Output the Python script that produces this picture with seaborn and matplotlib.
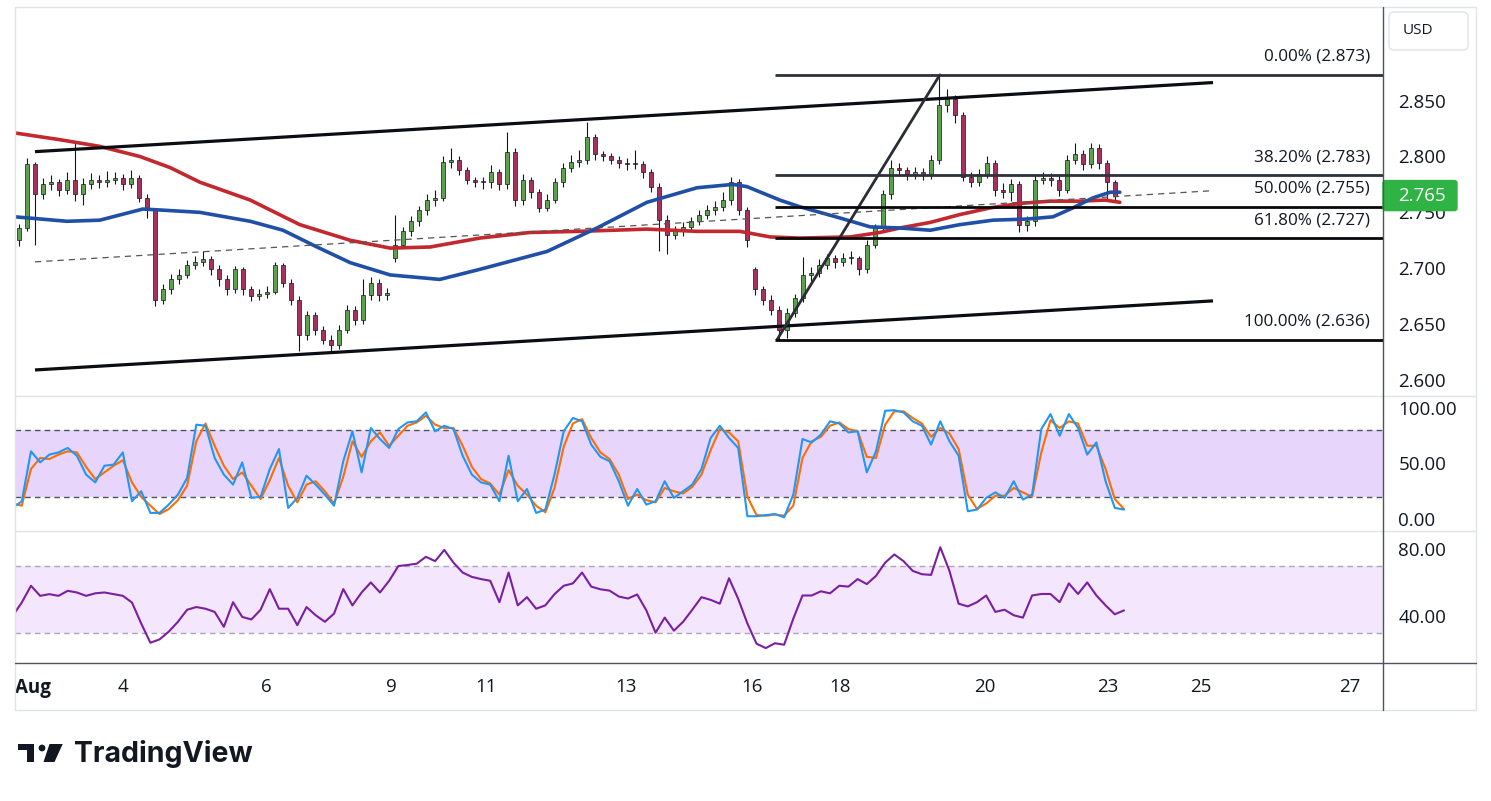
import numpy as np
import pandas as pd
import matplotlib
matplotlib.use('Agg')
import matplotlib.pyplot as plt
import matplotlib.transforms as mtransforms
from matplotlib.patches import FancyBboxPatch, Polygon, Circle
from matplotlib.lines import Line2D
import seaborn as sns

# ---- candles (one per bar) ----
opens = [2.725, 2.736, 2.793, 2.766, 2.775, 2.777, 2.770, 2.779, 2.766, 2.775,
         2.779, 2.777, 2.779, 2.781, 2.775, 2.781, 2.763, 2.752, 2.672, 2.681,
         2.690, 2.694, 2.703, 2.706, 2.708, 2.699, 2.690, 2.681, 2.699, 2.681,
         2.675, 2.677, 2.679, 2.703, 2.687, 2.672, 2.640, 2.658, 2.645, 2.636,
         2.631, 2.645, 2.663, 2.654, 2.676, 2.687, 2.676, 2.709, 2.721, 2.733,
         2.742, 2.752, 2.761, 2.763, 2.795, 2.797, 2.788, 2.779, 2.777, 2.777,
         2.786, 2.775, 2.804, 2.761, 2.779, 2.768, 2.754, 2.761, 2.777, 2.790,
         2.795, 2.797, 2.817, 2.802, 2.800, 2.797, 2.794, 2.793, 2.793, 2.786,
         2.773, 2.743, 2.730, 2.733, 2.737, 2.742, 2.748, 2.752, 2.755, 2.761,
         2.777, 2.752, 2.699, 2.681, 2.672, 2.663, 2.645, 2.660, 2.673, 2.694,
         2.696, 2.703, 2.709, 2.706, 2.709, 2.709, 2.699, 2.721, 2.736, 2.766,
         2.790, 2.788, 2.784, 2.786, 2.784, 2.797, 2.846, 2.851, 2.837, 2.782,
         2.777, 2.784, 2.794, 2.770, 2.768, 2.775, 2.739, 2.742, 2.779, 2.781,
         2.779, 2.770, 2.797, 2.802, 2.793, 2.808, 2.794, 2.777]
highs = [2.740, 2.799, 2.795, 2.781, 2.783, 2.780, 2.786, 2.813, 2.781, 2.785,
         2.783, 2.787, 2.786, 2.784, 2.788, 2.783, 2.766, 2.754, 2.686, 2.695,
         2.699, 2.707, 2.711, 2.715, 2.711, 2.703, 2.694, 2.702, 2.701, 2.684,
         2.681, 2.684, 2.706, 2.705, 2.690, 2.675, 2.662, 2.661, 2.648, 2.640,
         2.649, 2.667, 2.666, 2.690, 2.692, 2.690, 2.682, 2.748, 2.737, 2.747,
         2.756, 2.766, 2.770, 2.800, 2.808, 2.800, 2.791, 2.782, 2.782, 2.792,
         2.789, 2.822, 2.808, 2.784, 2.782, 2.771, 2.766, 2.781, 2.794, 2.801,
         2.806, 2.831, 2.820, 2.805, 2.803, 2.800, 2.799, 2.806, 2.796, 2.789,
         2.776, 2.748, 2.738, 2.741, 2.746, 2.752, 2.757, 2.760, 2.768, 2.782,
         2.780, 2.755, 2.701, 2.684, 2.676, 2.666, 2.664, 2.677, 2.710, 2.701,
         2.708, 2.713, 2.712, 2.714, 2.715, 2.711, 2.725, 2.740, 2.770, 2.797,
         2.794, 2.791, 2.791, 2.790, 2.801, 2.873, 2.860, 2.855, 2.840, 2.786,
         2.789, 2.800, 2.797, 2.776, 2.780, 2.778, 2.747, 2.783, 2.786, 2.785,
         2.783, 2.801, 2.812, 2.806, 2.812, 2.811, 2.797, 2.779]
lows = [2.720, 2.733, 2.721, 2.762, 2.770, 2.765, 2.766, 2.760, 2.757, 2.771,
        2.772, 2.773, 2.775, 2.770, 2.772, 2.759, 2.745, 2.666, 2.668, 2.677,
        2.686, 2.691, 2.699, 2.702, 2.694, 2.684, 2.676, 2.678, 2.676, 2.671,
        2.672, 2.673, 2.677, 2.683, 2.667, 2.626, 2.636, 2.640, 2.632, 2.624,
        2.628, 2.642, 2.649, 2.650, 2.672, 2.671, 2.672, 2.706, 2.718, 2.729,
        2.738, 2.748, 2.756, 2.760, 2.790, 2.783, 2.775, 2.773, 2.771, 2.772,
        2.770, 2.771, 2.756, 2.757, 2.763, 2.750, 2.751, 2.758, 2.773, 2.786,
        2.791, 2.793, 2.797, 2.796, 2.793, 2.790, 2.788, 2.789, 2.781, 2.768,
        2.715, 2.713, 2.726, 2.729, 2.733, 2.739, 2.744, 2.748, 2.751, 2.757,
        2.748, 2.719, 2.676, 2.667, 2.658, 2.636, 2.638, 2.656, 2.670, 2.689,
        2.692, 2.699, 2.700, 2.702, 2.704, 2.694, 2.696, 2.718, 2.733, 2.762,
        2.783, 2.779, 2.780, 2.779, 2.780, 2.793, 2.840, 2.830, 2.778, 2.773,
        2.774, 2.781, 2.765, 2.763, 2.760, 2.732, 2.733, 2.738, 2.775, 2.774,
        2.765, 2.767, 2.793, 2.788, 2.790, 2.789, 2.760, 2.759]
closes = [2.736, 2.793, 2.766, 2.775, 2.777, 2.770, 2.779, 2.766, 2.775, 2.779,
          2.777, 2.779, 2.781, 2.775, 2.781, 2.763, 2.752, 2.672, 2.681, 2.690,
          2.694, 2.703, 2.706, 2.708, 2.699, 2.690, 2.681, 2.699, 2.681, 2.675,
          2.677, 2.679, 2.703, 2.687, 2.672, 2.640, 2.658, 2.645, 2.636, 2.631,
          2.645, 2.663, 2.654, 2.676, 2.687, 2.676, 2.678, 2.721, 2.733, 2.742,
          2.752, 2.761, 2.763, 2.795, 2.797, 2.788, 2.779, 2.777, 2.777, 2.786,
          2.775, 2.804, 2.761, 2.779, 2.768, 2.754, 2.761, 2.777, 2.790, 2.795,
          2.797, 2.817, 2.802, 2.800, 2.797, 2.794, 2.793, 2.793, 2.786, 2.773,
          2.743, 2.730, 2.733, 2.737, 2.742, 2.748, 2.752, 2.755, 2.761, 2.777,
          2.752, 2.725, 2.681, 2.672, 2.663, 2.645, 2.660, 2.673, 2.694, 2.696,
          2.703, 2.709, 2.706, 2.709, 2.709, 2.699, 2.721, 2.736, 2.766, 2.790,
          2.788, 2.784, 2.786, 2.784, 2.797, 2.846, 2.851, 2.837, 2.782, 2.777,
          2.784, 2.794, 2.770, 2.768, 2.775, 2.739, 2.742, 2.779, 2.781, 2.779,
          2.770, 2.797, 2.802, 2.793, 2.808, 2.794, 2.777, 2.765]
last_price = 2.765

# ---- moving averages (bar position, price) ----
ma_red_bar = [-0.5, 5.1, 10.1, 15.1, 18.9, 22.6, 28.9, 35.1, 41.4, 46.4, 51.4, 57.6, 63.9, 70.1, 78.5,
              84.75, 90.1, 93.9, 97.6, 103.9, 107.6, 110.1, 113.9, 117.6, 121.4, 125.1, 128.9, 132.6,
              135.75, 137.6]
ma_red = [2.821, 2.815, 2.809, 2.800, 2.790, 2.777, 2.761, 2.739, 2.725, 2.718, 2.719, 2.727, 2.732,
          2.733, 2.735, 2.733, 2.733, 2.728, 2.727, 2.728, 2.732, 2.736, 2.741, 2.748, 2.754, 2.758,
          2.760, 2.760, 2.761, 2.759]
ma_blue_bar = [-0.5, 6, 10.1, 15.5, 22.6, 28.9, 33, 37.25, 41.4, 46.4, 52.6, 57.6, 66, 72.25, 78.5,
               84.75, 89.25, 91, 95.1, 97.6, 102.6, 106.4, 110.1, 113.9, 117.6, 121.75, 126, 129.25,
               131.75, 134.25, 136.4, 137.6]
ma_blue = [2.746, 2.742, 2.743, 2.753, 2.750, 2.742, 2.734, 2.719, 2.705, 2.694, 2.690, 2.699, 2.715,
           2.736, 2.759, 2.772, 2.775, 2.773, 2.761, 2.755, 2.745, 2.737, 2.736, 2.734, 2.739, 2.743,
           2.744, 2.746, 2.754, 2.763, 2.768, 2.768]

# ---- drawings (bar, price) ----
channel_upper = [(2, 2.8043), (149.25, 2.8661)]
channel_lower = [(2, 2.6090), (149.25, 2.6708)]
channel_mid = [(2, 2.7057), (149.25, 2.7694)]
fib_swing = [(94.75, 2.636), (115.1, 2.873)]
fib_start = 94.5
fib_ratios = ['0.00%', '38.20%', '50.00%', '61.80%', '100.00%']
fib_prices = [2.873, 2.783, 2.755, 2.727, 2.636]

# ---- oscillators, sampled on a regular grid ----
stoch_k = [10, 16, 61, 51, 58, 60, 64, 57, 40, 33,
           48, 49, 60, 16, 25, 5.5, 5.5, 13, 22, 37,
           85, 84, 55, 40, 31, 51, 19, 20, 45, 63,
           10, 19, 39, 31, 22, 12, 52, 79, 42, 82,
           72, 64, 81, 87, 88, 96, 79, 84, 81, 57,
           40, 33, 31, 16, 57, 16, 27, 5.5, 8.5, 40,
           79, 91, 88, 67, 56, 52, 34, 12, 27, 13,
           16, 34, 19, 25, 31, 45, 73, 84, 73, 64,
           2.5, 2.5, 3.5, 4.5, 1.5, 22, 72, 69, 76, 88,
           86, 78, 79, 42, 61, 97.5, 98, 96, 88, 84,
           67, 88, 70, 57, 7, 8.5, 19, 24, 19, 34,
           17.5, 22, 81, 94.5, 75, 94.5, 82, 58, 69, 34,
           10, 8.5]
stoch_d = [14, 12, 45, 55, 54, 58, 61, 60, 47, 36,
           42, 48, 53, 33, 20, 12, 4.5, 9, 17, 30,
           70, 86, 66, 48, 36, 42, 30, 18, 35, 55,
           30, 15, 31, 34, 25, 14, 38, 70, 56, 70,
           78, 66, 75, 84, 87, 93, 85, 82, 82, 66,
           47, 36, 32, 22, 44, 30, 22, 12, 6, 28,
           65, 86, 90, 73, 60, 54, 40, 18, 22, 17,
           15, 28, 25, 23, 29, 40, 62, 81, 78, 70,
           20, 3.5, 3, 4, 3, 12, 55, 70, 74, 84,
           87, 81, 79, 56, 55, 85, 97, 97, 91, 86,
           74, 82, 77, 63, 22, 9, 14, 21, 21, 28,
           24, 20, 60, 89, 82, 88, 86, 66, 66, 45,
           18, 9]
rsi = [40, 48, 58, 52, 53, 52, 55, 54, 52, 53.5,
       54, 53, 52, 48, 35.5, 24, 26, 30.6, 36.5, 43.7,
       45.3, 44.3, 42.4, 33.5, 48.2, 39.4, 37.9, 43.7, 56, 44.3,
       44.3, 34.5, 45.3, 40.4, 36.5, 41.4, 56, 46.3, 54, 60,
       54, 61, 69.8, 70.4, 71.2, 75.3, 72.7, 79.4, 71.8, 65.9,
       63.3, 62, 61, 48.2, 65.9, 46.3, 51.2, 44.3, 46.3, 53,
       58, 59.4, 65.9, 57.5, 55.9, 55.1, 51.6, 50.4, 52.8, 43.3,
       30, 39, 31.2, 36.5, 43.7, 51.2, 49.6, 47.3, 62.5, 50.2,
       35.5, 23.4, 20.8, 23.7, 22.8, 38.4, 52.2, 52.2, 54.7, 53.5,
       58, 57.5, 62, 59, 63.9, 71.8, 76.7, 72.7, 66.9, 64.9,
       64.5, 81, 66.9, 47.3, 45.7, 48.2, 52.2, 42.4, 43.7, 40.4,
       39, 52.2, 53.1, 53.1, 48.2, 59.4, 53.1, 60, 52.2, 46.3,
       41, 43.3]

date_labels = ['Aug', '4', '6', '9', '11', '13', '16', '18', '20', '23', '25', '27']
date_pos = [1.75, 13, 30.9, 46.6, 58.4, 75.9, 91.6, 102.6, 120.75, 136.1, 147.75, 166.4]

sns.set_theme(style='white')
plt.rcParams['font.family'] = ['Open Sans', 'DejaVu Sans']

W, H = 1491, 801
TXT = '#131722'
fig = plt.figure(figsize=(W / 100, H / 100), dpi=100)
fig.patch.set_facecolor('white')
inch = fig.dpi_scale_trans


def P(px, py):
    return px / 100, (H - py) / 100


def pane(top, bottom):
    return fig.add_axes([15 / W, 1 - bottom / H, 1368 / W, (bottom - top) / H])


ax = pane(7, 395)
ax_st = pane(396, 531)
ax_rsi = pane(531, 663)
x_lim = (-0.5, 170.5)

for a in (ax, ax_st, ax_rsi):
    a.set_facecolor('white')
    for s in a.spines.values():
        s.set_visible(False)
    a.set_xlim(*x_lim)
    a.yaxis.tick_right()
    a.tick_params(axis='y', length=0, pad=11, labelsize=13.5, labelcolor=TXT)
    a.tick_params(axis='x', length=0)
    a.set_xlabel('')
    a.set_ylabel('')

# ---- price pane ----
df = pd.DataFrame({'open': opens, 'high': highs, 'low': lows, 'close': closes})
df['bar'] = np.arange(len(df))
up = df['close'] >= df['open']
colors = np.where(up, '#5f9f52', '#a3335d')
ax.vlines(df['bar'], df['low'], df['high'], color=TXT, linewidth=0.8, zorder=3)
body = (df['close'] - df['open']).abs().clip(lower=0.0009)
ax.bar(df['bar'], body, bottom=df[['open', 'close']].min(axis=1), width=0.5,
       color=colors, edgecolor=TXT, linewidth=0.5, zorder=4)

sns.lineplot(x=ma_red_bar, y=ma_red, ax=ax, color='#c3282e', linewidth=2.6, zorder=5)
sns.lineplot(x=ma_blue_bar, y=ma_blue, ax=ax, color='#1f4fa6', linewidth=2.6, zorder=5)

for line in (channel_upper, channel_lower):
    (x0, y0), (x1, y1) = line
    ax.plot([x0, x1], [y0, y1], color='#0b0d12', linewidth=2.3, zorder=6, solid_capstyle='butt')
(x0, y0), (x1, y1) = channel_mid
ax.plot([x0, x1], [y0, y1], color='#555555', linewidth=0.9, linestyle=(0, (5, 4)), zorder=6)
(x0, y0), (x1, y1) = fib_swing
ax.plot([x0, x1], [y0, y1], color='#2a2d36', linewidth=2.0, zorder=6)

trans = mtransforms.blended_transform_factory(ax.transAxes, ax.transData)
for r, p in zip(fib_ratios, fib_prices):
    col = '#2e313b' if r in ('0.00%', '38.20%') else '#07080c'
    ax.hlines(p, fib_start, x_lim[1], color=col, linewidth=2.0, zorder=6)
    ax.annotate(f'{r} ({p:.3f})', xy=(0.9905, p), xycoords=trans, xytext=(0, 13),
                textcoords='offset points', ha='right', va='center', fontsize=12.3, color=TXT)

ax.set_ylim(2.5866, 2.9337)
price_ticks = [2.600, 2.650, 2.700, 2.750, 2.800, 2.850]
ax.set_yticks(price_ticks)
ax.set_yticklabels([f'{t:.3f}' for t in price_ticks])
ax.set_xticks([])

# last-price tag
tag_h = 30 / 1116
ax.add_patch(FancyBboxPatch((1.0, last_price - tag_h / 2), 74 / 1368, tag_h, transform=trans,
                            boxstyle='round,pad=0,rounding_size=0.002', color='#2fb344',
                            clip_on=False, zorder=20))
ax.text(1.0 + 15 / 1368, last_price, f'{last_price:.3f}', transform=trans, ha='left', va='center',
        fontsize=13.5, color='white', zorder=21, clip_on=False)

# ---- stochastic pane ----
grid = [-0.8 + 1.1481 * k for k in range(len(stoch_k))]
ax_st.axhspan(20, 80, color='#e8d5fc', zorder=0, linewidth=0)
for lv in (20, 80):
    ax_st.axhline(lv, color='#50535e', linewidth=1.0, linestyle=(0, (4, 3)), zorder=1)
sns.lineplot(x=grid, y=stoch_k, ax=ax_st, color='#2196f3', linewidth=1.5, zorder=3)
sns.lineplot(x=grid, y=stoch_d, ax=ax_st, color='#ff6d00', linewidth=1.5, zorder=2)
ax_st.set_ylim(-10.8, 110.8)
ax_st.set_yticks([0, 50, 100])
ax_st.set_yticklabels(['0.00', '50.00', '100.00'])
ax_st.set_xticks([])

# ---- RSI pane ----
ax_rsi.axhspan(30, 70, color='#f3e6fd', zorder=0, linewidth=0)
for lv in (30, 70):
    ax_rsi.axhline(lv, color='#aaa4b8', linewidth=1.0, linestyle=(0, (4, 3)), zorder=1)
sns.lineplot(x=grid, y=rsi, ax=ax_rsi, color='#7b1fa2', linewidth=1.5, zorder=3)
ax_rsi.set_ylim(11.9, 90.7)
ax_rsi.set_yticks([40, 80])
ax_rsi.set_yticklabels(['40.00', '80.00'])
ax_rsi.set_xticks(date_pos)
ax_rsi.set_xticklabels(date_labels)
ax_rsi.tick_params(axis='x', pad=10.5, labelsize=13.5, labelcolor=TXT)
ax_rsi.get_xticklabels()[0].set_fontweight('bold')


# ---- frame lines ----
def fig_line(x0, y0, x1, y1, color, lw):
    (a0, b0), (a1, b1) = P(x0, y0), P(x1, y1)
    fig.add_artist(Line2D([a0, a1], [b0, b1], transform=inch, color=color, linewidth=lw))


light = '#e0e3eb'
fig_line(15, 7, 1476, 7, light, 1)
fig_line(15, 7, 15, 710, light, 1)
fig_line(1476, 7, 1476, 710, light, 1)
fig_line(15, 710, 1476, 710, light, 1)
fig_line(15, 396, 1476, 396, light, 1)
fig_line(15, 531, 1476, 531, light, 1)
fig_line(15, 663, 1476, 663, '#50535e', 1)
fig_line(1383, 7, 1383, 710, '#50535e', 1)

# USD box
x, y = P(1389, 50)
fig.patches.append(FancyBboxPatch((x, y), 0.79, 0.38, transform=inch,
                                  boxstyle='round,pad=0,rounding_size=0.05',
                                  facecolor='white', edgecolor=light, linewidth=1))
fig.text(*P(1403, 31), 'USD', transform=inch, ha='left', va='center', fontsize=11, color=TXT)

# TradingView logo
fig.patches.append(Polygon([P(18, 744), P(33.5, 744), P(33.5, 762), P(26.5, 762), P(26.5, 750),
                            P(18, 750)], closed=True, transform=inch, facecolor=TXT, edgecolor='none'))
fig.patches.append(Circle(P(42, 748), 0.034, transform=inch, facecolor=TXT, edgecolor='none'))
fig.patches.append(Polygon([P(49.5, 744), P(62.7, 744), P(54.5, 762), P(43.5, 762)],
                           closed=True, transform=inch, facecolor=TXT, edgecolor='none'))
fig.text(*P(74, 754), 'TradingView', transform=inch, ha='left', va='center', fontsize=20.5,
         fontweight='bold', color=TXT, family=['Inter', 'DejaVu Sans'])

fig.savefig('out.png', dpi=100, facecolor='white')
